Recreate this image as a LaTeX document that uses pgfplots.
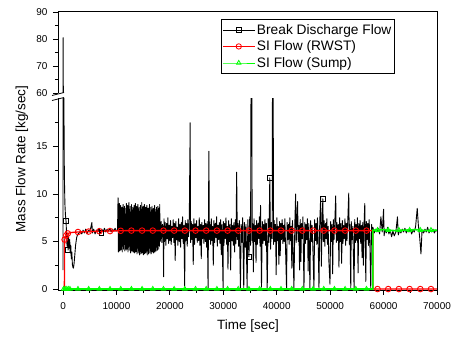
\documentclass[border=0pt]{standalone}
\usepackage{fontspec}
\setmainfont{Liberation Sans}
\usepackage{pgfplots}
\usepackage{pgfplotstable}
\pgfplotsset{compat=1.18}
\definecolor{sired}{RGB}{255,0,0}
\definecolor{sigreen}{RGB}{0,255,0}
\pgfplotstableread{
t y
0 2
30 80.5
80 40
150 21
250 12
350 9
450 7.8
560 7.2
650 6.0
750 4.5
850 5.6
940 4.1
1050 5.5
1150 4.3
1250 5.2
1350 3.8
1450 4.6
1550 3.2
1650 3.9
1750 2.6
1850 2.3
1950 2.2
2050 2.6
2150 3.2
2250 3.9
2350 4.6
2450 5.0
2550 5.4
2650 5.6
2800 5.8
3000 5.9
3250 6.1
3500 5.8
3750 6.2
4000 5.9
4250 6.3
4500 5.8
4750 6.2
5000 6.0
5250 6.6
5400 7.0
5500 5.9
5750 6.3
6000 5.8
6250 6.2
6500 6.0
6750 6.4
7000 5.9
7250 6.3
7500 6.0
7750 6.4
8000 6.0
8250 6.3
8500 6.1
8750 6.4
9000 6.0
9250 6.3
9500 6.1
9750 6.4
10000 6.1
10200 6.2
10300 9.6
10360 3.9
10420 8.4
10480 4.3
10540 9.0
10600 4.0
10660 8.2
10720 4.6
10780 8.8
10840 4.1
10900 7.9
10960 4.4
11020 8.6
11080 3.9
11140 8.1
11200 4.5
11260 8.9
11320 4.2
11380 8.3
11440 4.7
11500 8.7
11560 4.0
11620 7.8
11680 4.3
11740 8.5
11800 4.1
11860 9.0
11920 4.6
11980 8.2
12040 4.2
12100 8.8
12160 3.9
12220 8.0
12280 4.4
12340 9.1
12400 4.1
12460 8.4
12520 4.5
12580 8.7
12640 3.8
12700 8.1
12760 4.3
12820 8.9
12880 4.0
12940 8.3
13000 4.6
13060 8.6
13120 3.9
13180 8.0
13240 4.2
13300 8.8
13360 3.8
13420 8.2
13480 4.4
13540 9.0
13600 3.9
13660 8.5
13720 4.1
13780 8.7
13840 3.7
13900 8.1
13960 4.3
14020 8.9
14080 3.8
14140 8.3
14200 4.0
14260 8.6
14320 3.6
14380 8.0
14440 4.2
14500 8.8
14560 3.7
14620 8.4
14680 4.1
14740 9.1
14800 3.8
14860 8.2
14920 4.3
14980 8.7
15040 3.6
15100 8.1
15160 4.0
15220 8.9
15280 3.7
15340 8.4
15400 4.2
15460 8.6
15520 3.8
15580 8.0
15640 4.1
15700 8.8
15760 3.6
15820 8.3
15880 4.0
15940 8.5
16000 3.7
16060 8.2
16120 4.3
16180 8.9
16240 3.8
16300 8.1
16360 4.0
16420 8.6
16480 3.7
16540 8.3
16600 4.2
16660 8.7
16720 3.9
16780 8.0
16840 4.1
16900 8.5
16960 3.8
17020 8.2
17080 4.3
17140 8.8
17200 3.9
17260 8.4
17320 4.5
17380 8.1
17440 4.0
17500 8.6
17560 4.4
17620 8.3
17680 4.1
17740 8.7
17800 4.6
17860 8.0
17920 4.2
17980 8.5
18040 4.5
18100 8.9
18160 5.0
18250 5.2
18375 7.1
18500 4.9
18625 6.8
18750 5.6
18830 1.3
18900 7.4
19000 5.0
19125 7.0
19250 4.6
19375 6.9
19500 5.3
19625 7.5
19750 4.8
19875 6.7
20000 5.1
20125 7.2
20250 4.7
20375 6.6
20500 5.4
20625 7.3
20750 4.9
20875 6.9
21000 3.0
21125 7.1
21250 5.2
21375 6.5
21500 4.6
21625 7.4
21750 5.0
21875 6.8
22000 4.4
22125 7.0
22250 5.3
22375 7.6
22500 4.8
22625 6.7
22770 0.3
22875 7.2
23000 5.1
23125 6.9
23250 4.5
23375 7.3
23500 5.5
23625 6.6
23800 17.5
23875 4.9
24000 7.1
24125 5.2
24250 6.8
24375 2.6
24500 7.4
24625 4.7
24750 6.9
24875 5.4
25000 7.2
25125 4.9
25250 6.6
25375 5.1
25500 7.5
25625 4.6
25750 6.8
25875 3.2
26000 7.0
26125 5.3
26250 6.7
26375 4.8
26500 7.3
26625 5.0
26750 6.9
26875 4.4
27000 7.1
27150 0.0
27300 14.5
27400 5.2
27500 6.8
27625 4.7
27750 7.4
27875 5.1
28000 6.6
28125 2.5
28250 7.2
28375 4.9
28500 6.9
28625 5.4
28750 7.6
28875 4.5
29000 6.7
29125 5.2
29250 7.0
29375 4.8
29500 7.3
29625 3.6
29750 6.8
29960 0.0
30000 7.1
30125 4.6
30250 6.9
30375 5.3
30500 7.5
30625 4.7
30750 6.6
30875 2.1
31000 7.2
31125 5.0
31250 6.8
31375 2.0
31500 7.4
31625 5.1
31750 6.7
31875 4.6
32000 7.0
32125 3.9
32250 7.3
32375 4.8
32500 12.3
32625 5.2
32750 6.9
32875 4.5
33000 7.2
33210 0.0
33350 6.8
33500 4.9
33625 7.5
33830 0.0
33950 7.0
34100 4.4
34250 6.8
34460 0.0
34600 7.3
34800 3.4
34950 7.6
35100 4.6
35280 40
35400 5.1
35500 6.9
35625 1.8
35750 7.4
35875 5.0
36000 6.7
36125 2.8
36250 7.2
36375 4.7
36500 6.9
36625 5.3
36750 7.6
36875 4.5
36970 8.8
37050 5.2
37150 0.2
37300 7.1
37425 4.8
37550 6.8
37675 5.1
37800 7.3
37925 4.6
38050 6.9
38220 0.0
38400 7.4
38550 4.9
38700 11.7
38850 4.2
39000 7.0
39150 5.3
39270 40
39400 4.7
39525 7.2
39650 5.0
39775 6.8
39900 1.5
40025 7.5
40150 5.1
40275 6.6
40400 2.6
40525 7.1
40650 3.5
40775 6.9
40900 5.2
41025 7.3
41150 4.8
41275 6.7
41400 5.0
41525 7.4
41650 4.3
41840 0.0
41950 7.0
42075 5.2
42200 6.8
42325 4.7
42450 7.5
42575 5.1
42700 6.6
42825 2.2
42950 7.2
43220 0.0
43400 7.1
43540 10.0
43650 4.9
43775 6.8
43900 9.2
44025 5.0
44150 6.7
44275 2.0
44400 7.3
44525 2.9
44650 6.9
44775 5.3
44900 7.6
45100 0.0
45250 7.0
45375 4.8
45500 6.8
45625 5.2
45750 7.4
45875 1.9
46000 6.9
46220 0.0
46350 7.2
46500 5.0
46625 6.7
46750 4.6
46970 0.0
47100 7.3
47250 5.1
47375 6.9
47500 4.7
47625 7.5
47750 5.2
47910 0.0
48050 7.0
48230 9.7
48350 2.4
48500 6.8
48625 9.5
48750 5.0
48875 7.2
49000 4.5
49125 6.9
49250 5.3
49375 7.4
49500 4.7
49625 6.6
49750 3.1
49970 0.5
50100 7.1
50225 5.0
50350 6.8
50475 1.6
50600 7.3
50725 5.2
50850 6.7
51040 9.8
51150 4.9
51275 7.0
51400 5.1
51525 6.8
51650 2.3
51775 7.5
51900 5.0
52025 6.9
52150 2.7
52275 7.2
52400 4.8
52525 6.7
52650 5.3
52775 7.4
52900 4.6
53025 6.9
53150 5.1
53300 7.2
53480 10.1
53600 4.7
53700 6.8
53860 0.0
53950 7.1
54100 5.2
54250 6.6
54480 0.0
54600 7.3
54725 4.9
54850 6.8
54975 5.1
55100 7.5
55225 1.7
55350 6.9
55475 5.3
55600 7.2
55725 4.8
55850 6.7
55975 3.3
56100 7.0
56225 2.5
56350 6.8
56480 9.0
56600 4.7
56670 0.8
56800 7.1
56925 5.2
57050 6.9
57175 4.6
57300 7.3
57425 5.1
57600 0.0
57750 6.8
57875 5.0
58000 6.5
58125 6.2
58250 5.9
58500 6.3
58750 6.0
59000 6.4
59250 5.8
59500 7.6
59750 6.0
60000 8.4
60100 5.6
60250 6.3
60500 5.9
60750 6.5
61000 5.8
61250 6.2
61500 5.5
61750 6.1
62000 5.6
62300 6.0
62600 7.6
62750 5.7
63000 6.2
63250 5.9
63500 6.3
63750 6.0
64000 6.4
64250 5.9
64500 6.2
64750 6.0
65000 6.3
65250 5.8
65500 6.2
65750 6.0
66000 6.6
66300 8.5
66500 6.8
66750 5.5
67000 3.7
67200 6.2
67500 5.9
67750 6.3
68000 6.0
68250 6.5
68500 5.9
68750 6.2
69000 6.0
69250 6.3
69500 5.9
69750 6.2
70000 6.1
}\breakdata
\pgfplotsset{
  common/.style={
    scale only axis, width=379bp, xmin=-940, xmax=70000, anchor=south west,
    tick align=outside, major tick length=5bp, minor tick length=3bp,
    every tick/.style={black, line width=0.8bp},
    axis line style={black, line width=1bp},
    /pgf/number format/assume math mode=true,
    tick label style={font=\fontsize{10}{12}\selectfont},
    yticklabel style={xshift=-2bp},
  },
  bdf/.style={black, line width=0.9bp, line join=round},
}
\begin{document}
\begin{tikzpicture}
\useasboundingbox (0,0) rectangle (454bp,338bp);
\begin{axis}[common, at={(58bp,48bp)}, height=191.5bp, ymin=-0.1, ymax=20.05,
  axis x line*=bottom, axis y line*=left,
  xtick={0,10000,...,70000}, minor xtick={5000,15000,...,65000},
  ytick={0,5,10,15}, minor ytick={2.5,7.5,12.5,17.5},
  scaled x ticks=false, xticklabel style={/pgf/number format/1000 sep={}, yshift=-4bp},
]
\addplot[bdf] table {\breakdata};
\addplot[only marks, mark=square, mark size=2.3bp, mark options={black, fill=white, line width=0.6bp}] coordinates {
(560,7.2) (940,4.1) (7130,5.9) (34800,3.4) (38700,11.7) (48625,9.5)};
\addplot[sired, line width=1.3bp] coordinates {
(0,0) (250,0) (300,5.2) (450,5.5) (600,5.65) (900,5.85) (1500,5.95) (2800,6.0) (5000,6.05) (8000,6.1) (12000,6.15) (58000,6.15) (58000,0) (70000,0)};
\addplot[only marks, mark=o, mark size=2.8bp, mark options={sired, line width=0.9bp}] coordinates {
(300,5.2) (600,5.65) (900,5.85) (2800,6.0) (4800,6.05) (6800,6.08) (8800,6.1) (10800,6.13) (12800,6.15) (14800,6.15) (16800,6.15) (18800,6.15) (20800,6.15) (22800,6.15) (24800,6.15) (26800,6.15) (28800,6.15) (30800,6.15) (32800,6.15) (34800,6.15) (36800,6.15) (38800,6.15) (40800,6.15) (42800,6.15) (44800,6.15) (46800,6.15) (48800,6.15) (50800,6.15) (52800,6.15) (54800,6.15) (56800,6.15) (58870,0) (60870,0) (62870,0) (64870,0) (66870,0) (68870,0)};
\addplot[sigreen, line width=1.6bp] coordinates {
(0,0) (58000,0) (58000,6.2) (60000,6.25) (62000,6.15) (64000,6.2) (66000,6.25) (68000,6.15) (70000,6.2)};
\addplot[only marks, mark=triangle, mark size=2.6bp, mark options={sigreen, line width=0.8bp}] coordinates {
(100,0) (400,0) (700,0) (1000,0) (1300,0) (2800,0) (4800,0) (6800,0) (8800,0) (10800,0) (12800,0) (14800,0) (16800,0) (18800,0) (20800,0) (22800,0) (24800,0) (26800,0) (28800,0) (30800,0) (32800,0) (34800,0) (36800,0) (38800,0) (40800,0) (42800,0) (44800,0) (46800,0) (48800,0) (50800,0) (52800,0) (54800,0) (56800,0) (58870,6.2) (60870,6.2) (62870,6.2) (64870,6.2) (66870,6.2) (68870,6.2)};
\end{axis}
\begin{axis}[common, at={(58bp,245bp)}, height=81bp, ymin=60, ymax=90,
  axis x line=none, axis y line*=left,
  ytick={60,70,80,90}, minor ytick={65,75,85},
  legend cell align=left,
  legend style={at={(0.43,0.914)}, anchor=north west, draw=black, line width=0.8bp,
    font=\fontsize{13.8}{15}\selectfont, inner xsep=1bp, inner ysep=3bp, row sep=1.5bp,
    nodes={inner sep=1.8bp}},
  legend image code/.code={\draw[mark repeat=2,mark phase=2,#1] plot coordinates {(0bp,0bp) (16bp,0bp) (32bp,0bp)};},
]
\addplot[bdf, forget plot] table {\breakdata};
\addlegendimage{black, line width=0.6bp, mark=square, mark size=2.3bp, mark options={fill=white}}
\addlegendentry{Break Discharge Flow}
\addlegendimage{sired, line width=0.8bp, mark=o, mark size=2.7bp}
\addlegendentry{SI Flow (RWST)}
\addlegendimage{sigreen, line width=0.8bp, mark=triangle, mark size=2.6bp}
\addlegendentry{SI Flow (Sump)}
\end{axis}
\draw[line width=1bp] (58bp,326bp) -- (437bp,326bp) -- (437bp,48bp);
\draw[line width=0.8bp] (52bp,242.5bp) -- (64bp,245.5bp);
\draw[line width=0.8bp] (52bp,237.5bp) -- (64bp,240.5bp);
\node[rotate=90, font=\fontsize{13.5}{16}\selectfont] at (22bp,179bp) {Mass Flow Rate [kg/sec]};
\node[font=\fontsize{13.5}{16}\selectfont] at (248bp,12bp) {Time [sec]};
\end{tikzpicture}
\end{document}
